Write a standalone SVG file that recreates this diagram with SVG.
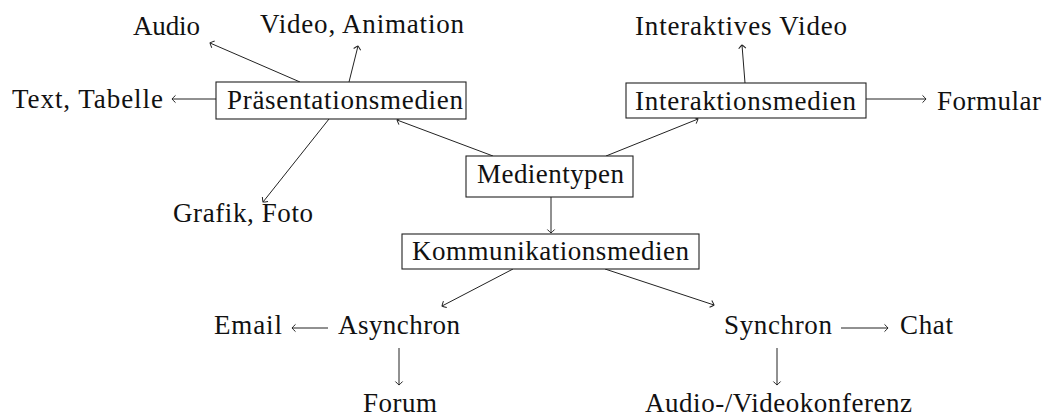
<svg xmlns="http://www.w3.org/2000/svg" width="1044" height="416" viewBox="0 0 1044 416">
<style>
text{font-family:"Liberation Serif","Times New Roman",serif;font-size:27px;fill:#111;}
.box{fill:#fff;stroke:#222;stroke-width:1.1;}
.c line{stroke:#222;stroke-width:1;fill:none;marker-end:url(#ah);}
</style>
<defs>
<marker id="ah" markerUnits="userSpaceOnUse" markerWidth="12" markerHeight="12" viewBox="-6 -6 12 12" refX="0" refY="0" orient="auto">
<path d="M-3.5,-3.6 Q-0.6,-0.9 0,0 Q-0.6,0.9 -3.5,3.6" fill="none" stroke="#222" stroke-width="1"/>
</marker>
</defs>
<rect width="1044" height="416" fill="#fff"/>
<g class="c" id="connectors">
<line x1="216" y1="99" x2="172" y2="99"/>
<line x1="300" y1="82" x2="210" y2="43"/>
<line x1="349" y1="82" x2="358" y2="46"/>
<line x1="329" y1="119" x2="263" y2="202"/>
<line x1="493" y1="156" x2="397" y2="120"/>
<line x1="606" y1="156" x2="698" y2="119"/>
<line x1="745" y1="83" x2="742" y2="45"/>
<line x1="866" y1="99" x2="926" y2="99"/>
<line x1="551" y1="197" x2="551" y2="233"/>
<line x1="513" y1="269" x2="442" y2="306"/>
<line x1="605" y1="269" x2="714" y2="305"/>
<line x1="328" y1="328" x2="292" y2="328"/>
<line x1="399" y1="348" x2="399" y2="385"/>
<line x1="841" y1="328" x2="888" y2="328"/>
<line x1="777" y1="348" x2="777" y2="385"/>
</g>
<g id="medientypen"><rect class="box" x="466" y="156" width="167" height="41"/><text x="477" y="183" textLength="147" lengthAdjust="spacing">Medientypen</text></g>
<g id="praesentationsmedien"><rect class="box" x="216" y="82" width="250" height="37"/><text x="227" y="109" textLength="236" lengthAdjust="spacing">Präsentationsmedien</text></g>
<g id="interaktionsmedien"><rect class="box" x="626" y="83" width="240" height="35"/><text x="635" y="110" textLength="221" lengthAdjust="spacing">Interaktionsmedien</text></g>
<g id="kommunikationsmedien"><rect class="box" x="402" y="234" width="297" height="35"/><text x="412" y="260" textLength="277" lengthAdjust="spacing">Kommunikationsmedien</text></g>
<g id="audio"><text x="133" y="35" textLength="67" lengthAdjust="spacing">Audio</text></g>
<g id="video"><text x="260" y="33" textLength="204" lengthAdjust="spacing">Video, Animation</text></g>
<g id="text-tabelle"><text x="12" y="108" textLength="151" lengthAdjust="spacing">Text, Tabelle</text></g>
<g id="grafik"><text x="173" y="222" textLength="140" lengthAdjust="spacing">Grafik, Foto</text></g>
<g id="interaktives-video"><text x="635" y="35" textLength="212" lengthAdjust="spacing">Interaktives Video</text></g>
<g id="formular"><text x="937" y="110" textLength="104" lengthAdjust="spacing">Formular</text></g>
<g id="asynchron"><text x="338" y="334" textLength="122" lengthAdjust="spacing">Asynchron</text></g>
<g id="email"><text x="214" y="334" textLength="68" lengthAdjust="spacing">Email</text></g>
<g id="forum"><text x="363" y="412" textLength="74" lengthAdjust="spacing">Forum</text></g>
<g id="synchron"><text x="724" y="334" textLength="108" lengthAdjust="spacing">Synchron</text></g>
<g id="chat"><text x="900" y="334" textLength="53" lengthAdjust="spacing">Chat</text></g>
<g id="konferenz"><text x="645" y="412" textLength="267" lengthAdjust="spacing">Audio-/Videokonferenz</text></g>
</svg>
